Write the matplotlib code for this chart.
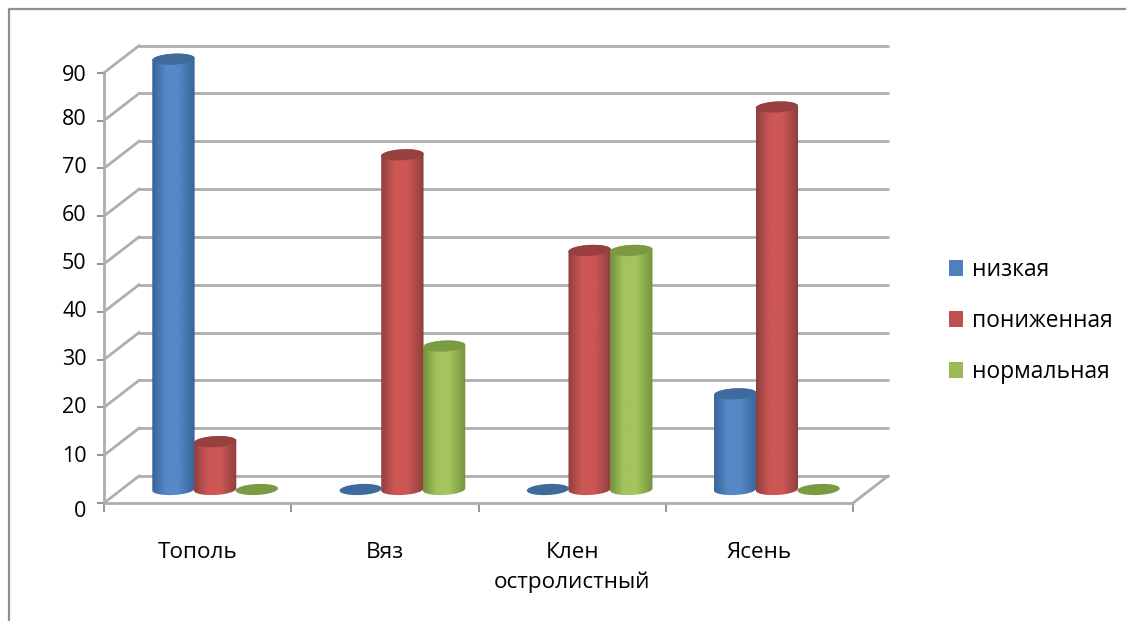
import numpy as np
import matplotlib
matplotlib.use('Agg')
import matplotlib.pyplot as plt
from matplotlib.colors import LinearSegmentedColormap
from matplotlib.lines import Line2D
from matplotlib.patches import PathPatch, Patch
from matplotlib.path import Path
from matplotlib.transforms import ScaledTranslation

plt.rcParams['font.family'] = ['Open Sans', 'DejaVu Sans']

species = ['Тополь', 'Вяз', 'Клен\nостролистный', 'Ясень']
low = [90, 0, 0, 20]
reduced = [10, 70, 50, 80]
normal = [0, 30, 50, 0]
series_names = ['низкая', 'пониженная', 'нормальная']
y_ticks = [0, 10, 20, 30, 40, 50, 60, 70, 80, 90]

# swatch, top of cylinder, dark side, light side
palette = [('#4f81bd', '#3f6a9c', '#38639a', '#5588c6'),
           ('#c0504d', '#98403e', '#8f3f3d', '#cc5755'),
           ('#9bbb59', '#7b9a44', '#74913c', '#a3c45e')]

GRID = '#aeaeae'
DEPTH_X = 0.187   # depth of the box, in categories
DEPTH_Y = 5.65    # depth of the box, in value units
BAR_W = 0.226
ELL_H = 1.15
TILT = 0.22       # ellipses lean up to the right slightly


def ellipse_xy(cx, cy, t):
    x = cx + BAR_W / 2 * np.cos(t)
    y = cy + ELL_H * np.sin(t) + TILT * np.cos(t)
    return x, y


def draw_cylinder(ax, fig, cx, value, colors, order):
    _, top_c, dark, light = colors
    cy = DEPTH_Y / 2
    if value > 0:
        cmap = LinearSegmentedColormap.from_list(
            'side', [(0, dark), (0.32, light), (0.62, light), (1, dark)], N=128)
        t_low = np.linspace(np.pi, 2 * np.pi, 40)
        t_up = np.linspace(0, np.pi, 40)
        x1, y1 = ellipse_xy(cx, cy, t_low)
        x2, y2 = ellipse_xy(cx, cy + value, t_up)
        verts = np.column_stack([np.r_[x1, x2], np.r_[y1, y2]])
        verts = np.vstack([verts, verts[0]])
        codes = [Path.MOVETO] + [Path.LINETO] * (len(verts) - 2) + [Path.CLOSEPOLY]
        shape = PathPatch(Path(verts, codes), fc='none', ec='none', zorder=order)
        ax.add_patch(shape)
        grad = np.linspace(0, 1, 128)[None, :]
        im = ax.imshow(grad, cmap=cmap, aspect='auto', interpolation='bilinear',
                       extent=(cx - BAR_W / 2, cx + BAR_W / 2, 0, cy + value + 3),
                       zorder=order)
        im.set_clip_path(shape)
        im.set_clip_box(fig.bbox)
    t = np.linspace(0, 2 * np.pi, 80)
    ex, ey = ellipse_xy(cx, cy + value, t)
    ax.fill(ex, ey, color=top_c, lw=0, zorder=order + 0.5, clip_on=False)


fig = plt.figure(figsize=(11.26, 6.21), dpi=100)
ax = fig.add_axes([104 / 1126, (621 - 503) / 621, 749 / 1126, 430.3 / 621])

# outer frame, only top and left are visible
fig.add_artist(Line2D([9 / 1126, 9 / 1126, 1], [0, 1 - 9 / 621, 1 - 9 / 621],
                      color='#8f8f8f', lw=1.6))

# back wall and side wall
for v in y_ticks:
    ax.plot([DEPTH_X, 4 + DEPTH_X], [v + DEPTH_Y, v + DEPTH_Y], color=GRID, lw=2,
            zorder=1, clip_on=False, solid_capstyle='round')
    ax.plot([0, DEPTH_X], [v, v + DEPTH_Y], color=GRID, lw=2, zorder=1, clip_on=False)
ax.plot([4, 4 + DEPTH_X], [0, DEPTH_Y], color=GRID, lw=2, zorder=1, clip_on=False)

order = 3
for i in range(len(species)):
    for k, vals in enumerate([low, reduced, normal]):
        cx = i + 0.5 + DEPTH_X / 2 + (k - 1) * BAR_W * 0.985
        draw_cylinder(ax, fig, cx, vals[i], palette[k], order)
        order += 1

ax.set_xlim(0, 4)
ax.set_ylim(0, 90)
ax.patch.set_visible(False)
for s in ['top', 'right']:
    ax.spines[s].set_visible(False)
for s in ['left', 'bottom']:
    ax.spines[s].set_color(GRID)
    ax.spines[s].set_linewidth(2)

ax.set_yticks(y_ticks)
ax.tick_params(axis='y', length=5, width=1.3, color='#8c8c8c', pad=7.5, labelsize=15.5,
               labelcolor='black')
ax.set_xticks([0, 1, 2, 3, 4])
ax.set_xticklabels([])
ax.set_xticks([0.5, 1.5, 2.5, 3.5], minor=True)
ax.set_xticklabels(species, minor=True, linespacing=1.55)
ax.tick_params(axis='x', which='major', length=6.5, width=1.3, color='#8c8c8c')
ax.tick_params(axis='x', which='minor', length=0, pad=28, labelsize=16.2, labelcolor='black')

# value labels do not sit exactly on their ticks
nudges = [-6, 1, 2, 3, 3, 3, 3, 3, 4, 0]
for lab, dy in zip(ax.get_yticklabels(), nudges):
    lab.set_transform(lab.get_transform() + ScaledTranslation(0, dy / 100, fig.dpi_scale_trans))

handles = [Patch(color=c[0], lw=0) for c in palette]
ax.legend(handles, series_names, loc='center left', frameon=False,
          bbox_to_anchor=(949 / 1126, 1 - 321 / 621), bbox_transform=fig.transFigure,
          fontsize=16.4, handlelength=0.61, handleheight=0.7, handletextpad=0.42,
          labelspacing=1.2, borderpad=0, borderaxespad=0)

fig.savefig('out.png', dpi=100)
